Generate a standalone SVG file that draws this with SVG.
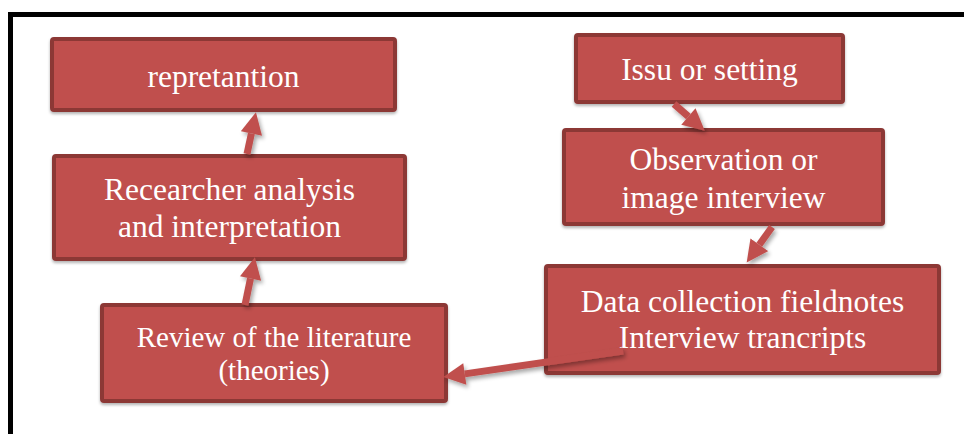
<svg xmlns="http://www.w3.org/2000/svg" width="964" height="434" viewBox="0 0 964 434">
<style>
.box{fill:#C0504D;stroke:#8C3836;stroke-width:4;filter:url(#sh)}
.t{font-family:"Liberation Serif","Times New Roman",serif;font-size:31.5px;fill:#FFFFFF;text-anchor:middle}
.t2{font-size:29px}
.conn{stroke:#C0504D;stroke-width:7;fill:none;marker-end:url(#ah)}
</style>
<defs>
<filter id="sh" x="-5%" y="-10%" width="110%" height="125%">
<feGaussianBlur in="SourceAlpha" stdDeviation="1.5"/>
<feOffset dx="0" dy="1.5" result="b"/>
<feComponentTransfer><feFuncA type="linear" slope="0.3"/></feComponentTransfer>
<feMerge><feMergeNode/><feMergeNode in="SourceGraphic"/></feMerge>
</filter>
<filter id="sh2" filterUnits="userSpaceOnUse" x="0" y="0" width="964" height="434">
<feGaussianBlur in="SourceAlpha" stdDeviation="2"/>
<feOffset dx="2" dy="3" result="b"/>
<feComponentTransfer><feFuncA type="linear" slope="0.35"/></feComponentTransfer>
<feMerge><feMergeNode/><feMergeNode in="SourceGraphic"/></feMerge>
</filter>
<marker id="ah" viewBox="0 0 10 10" refX="0" refY="5" markerWidth="3.2" markerHeight="3.1" markerUnits="strokeWidth" orient="auto">
<path d="M0,0 L10,5 L0,10 z" fill="#C0504D"/>
</marker>
</defs>
<path d="M10.5,434 V14.5 H964" fill="none" stroke="#000" stroke-width="5"/>
<g id="n-repretantion">
<rect class="box" x="52" y="39" width="343" height="71" rx="2"/>
<text class="t" x="223.5" y="87">repretantion</text>
</g>
<g id="n-analysis">
<rect class="box" x="54" y="156" width="351" height="103" rx="2"/>
<text class="t" x="229.5" y="200">Recearcher analysis</text>
<text class="t" x="229.5" y="237">and interpretation</text>
</g>
<g id="n-review">
<rect class="box" x="102" y="305" width="344" height="96" rx="2"/>
<text class="t t2" x="274" y="347">Review of the literature</text>
<text class="t t2" x="274" y="380">(theories)</text>
</g>
<g id="n-issu">
<rect class="box" x="576" y="35" width="267" height="67" rx="2"/>
<text class="t" x="709.5" y="80">Issu or setting</text>
</g>
<g id="n-observation">
<rect class="box" x="564" y="130" width="319" height="94" rx="2"/>
<text class="t" x="723.5" y="170">Observation or</text>
<text class="t" x="723.5" y="208">image interview</text>
</g>
<g id="n-data">
<rect class="box" x="546" y="266" width="393" height="107" rx="2"/>
<text class="t" x="742.5" y="312">Data collection fieldnotes</text>
<text class="t" x="742.5" y="348">Interview trancripts</text>
</g>
<g id="connectors" filter="url(#sh2)">
<path class="conn" d="M247,154 L251.4,133.5"/>
<path class="conn" d="M245,305 L250.5,278.5"/>
<path class="conn" d="M674,104 L688.4,116.5"/>
<path class="conn" d="M772,227 L759.3,244.8"/>
<path class="conn" d="M623,351 L464.8,373.9"/>
</g>
</svg>
